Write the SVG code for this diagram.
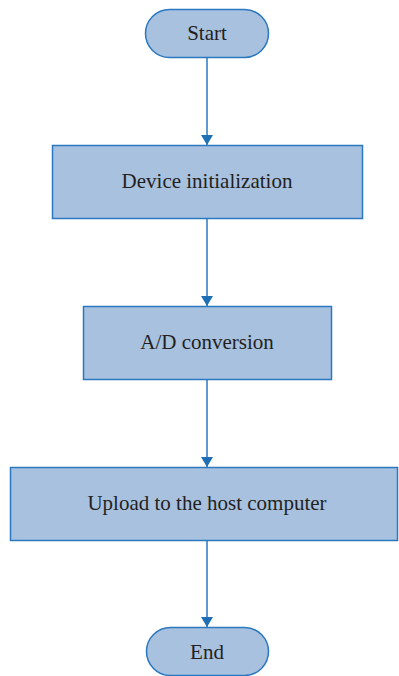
<svg xmlns="http://www.w3.org/2000/svg" width="399" height="676" viewBox="0 0 399 676">
  <style>
    .box { fill: #a7c1df; stroke: #2a78c0; stroke-width: 1.5; }
    .lbl { font-family: "Liberation Serif", "Times New Roman", serif; font-size: 21px; fill: #231f20; text-anchor: middle; dominant-baseline: central; }
    .edge { stroke: #2a78c0; stroke-width: 1.5; fill: none; marker-end: url(#arrow); }
  </style>
  <defs>
    <marker id="arrow" markerWidth="12" markerHeight="12" refX="10" refY="6" orient="auto" markerUnits="userSpaceOnUse">
      <path d="M0,0 L10,6 L0,12 Z" fill="#1f6fb5"/>
    </marker>
  </defs>
  <rect width="399" height="676" fill="#ffffff"/>

  <g id="connectors">
    <line class="edge" x1="207" y1="58" x2="207" y2="145"/>
    <line class="edge" x1="207" y1="219" x2="207" y2="306"/>
    <line class="edge" x1="207" y1="380" x2="207" y2="467"/>
    <line class="edge" x1="207" y1="541" x2="207" y2="627"/>
  </g>

  <g id="start">
    <rect class="box" x="145.5" y="9.5" width="123" height="48" rx="24" ry="24"/>
    <text class="lbl" x="207" y="33">Start</text>
  </g>
  <g id="device-init">
    <rect class="box" x="52.5" y="145.5" width="310" height="73"/>
    <text class="lbl" x="207" y="181">Device initialization</text>
  </g>
  <g id="ad-conversion">
    <rect class="box" x="83.5" y="306.5" width="248" height="73"/>
    <text class="lbl" x="207" y="342">A/D conversion</text>
  </g>
  <g id="upload">
    <rect class="box" x="10.5" y="467.5" width="387" height="73"/>
    <text class="lbl" x="207" y="503">Upload to the host computer</text>
  </g>
  <g id="end">
    <rect class="box" x="146.5" y="627.5" width="122" height="48" rx="24" ry="24"/>
    <text class="lbl" x="207" y="652">End</text>
  </g>
</svg>
